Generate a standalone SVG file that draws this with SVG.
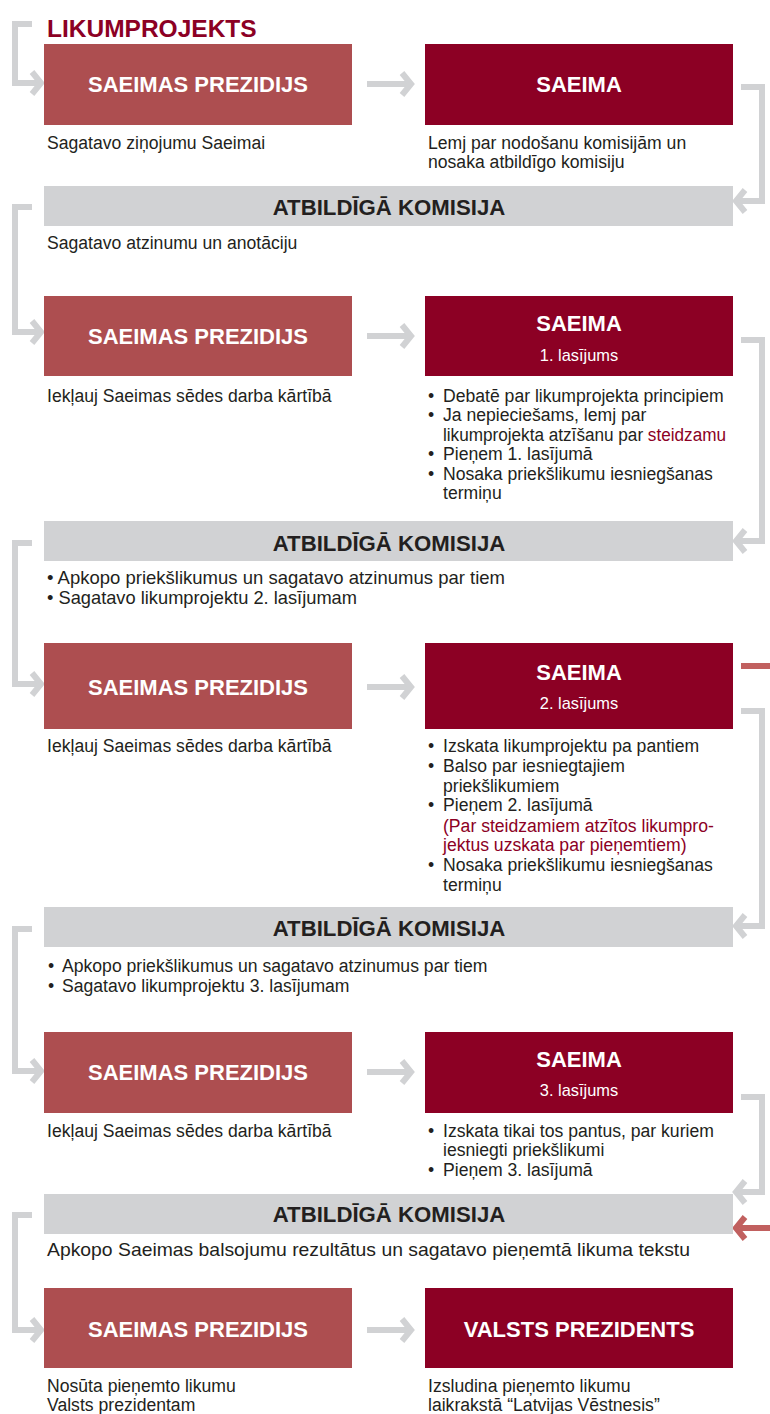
<svg xmlns="http://www.w3.org/2000/svg" width="770" height="1414" viewBox="0 0 770 1414">
<style>
.lt{fill:#ad4e50}
.dk{fill:#8c0024}
.bar{fill:#d1d2d4}
.bt{font-family:"Liberation Sans",Arial,sans-serif;font-weight:bold;font-size:22px;fill:#fff;text-anchor:middle}
.bb{font-family:"Liberation Sans",Arial,sans-serif;font-weight:bold;font-size:22.2px;fill:#231f20;text-anchor:middle}
.sub{font-family:"Liberation Sans",Arial,sans-serif;font-size:16.4px;fill:#fff;text-anchor:middle}
.tx{font-family:"Liberation Sans",Arial,sans-serif;font-size:17.6px;fill:#231f20}
.lg{font-size:18.4px}
.red{fill:#8c0024}
.cn{fill:none;stroke:#d1d2d4;stroke-width:6;stroke-linejoin:miter;stroke-linecap:butt}
.cr{fill:none;stroke:#c1605f;stroke-width:6;stroke-linejoin:miter;stroke-linecap:butt}
.title{font-family:"Liberation Sans",Arial,sans-serif;font-weight:bold;font-size:24.5px;fill:#8c0024}
</style>
<text class="title" x="47" y="37">LIKUMPROJEKTS</text>
<g id="connectors">
  <path class="cn" d="M32 24H15V83H38"/><polyline class="cn" points="32,72 41,83 32,94"/>
  <path class="cn" d="M367 84H408"/><polyline class="cn" points="402,73 411,84 402,95"/>
  <path class="cn" d="M741 87H762V201H740"/><polyline class="cn" points="745,190 736,201 745,212"/>
  <path class="cn" d="M32 207H15V332H38"/><polyline class="cn" points="32,321 41,332 32,343"/>
  <path class="cn" d="M367 336H408"/><polyline class="cn" points="402,325 411,336 402,347"/>
  <path class="cn" d="M741 340H762V541H740"/><polyline class="cn" points="745,530 736,541 745,552"/>
  <path class="cn" d="M32 543H15V684H38"/><polyline class="cn" points="32,673 41,684 32,695"/>
  <path class="cn" d="M367 687H408"/><polyline class="cn" points="402,676 411,687 402,698"/>
  <path class="cr" d="M741 666H770"/>
  <path class="cn" d="M741 711H762V926H740"/><polyline class="cn" points="745,915 736,926 745,937"/>
  <path class="cn" d="M32 929H15V1071H38"/><polyline class="cn" points="32,1060 41,1071 32,1082"/>
  <path class="cn" d="M367 1072H408"/><polyline class="cn" points="402,1061 411,1072 402,1083"/>
  <path class="cn" d="M741 1097H762V1192H740"/><polyline class="cn" points="745,1181 736,1192 745,1203"/>
  <path class="cr" d="M770 1228H740"/><polyline class="cr" points="745,1217 736,1228 745,1239"/>
  <path class="cn" d="M32 1215H15V1330H38"/><polyline class="cn" points="32,1319 41,1330 32,1341"/>
  <path class="cn" d="M367 1330H408"/><polyline class="cn" points="402,1319 411,1330 402,1341"/>
</g>
<g id="prez1">
  <rect class="lt" x="44" y="44" width="308" height="81"/>
  <text class="bt" x="198" y="92">SAEIMAS PREZIDIJS</text>
  <text class="tx" x="47" y="149">Sagatavo ziņojumu Saeimai</text>
</g>
<g id="saeima1">
  <rect class="dk" x="425" y="44" width="308" height="81"/>
  <text class="bt" x="579" y="92">SAEIMA</text>
  <text class="tx" x="428" y="149">Lemj par nodošanu komisijām un</text>
  <text class="tx" x="428" y="168">nosaka atbildīgo komisiju</text>
</g>
<g id="kom1">
  <rect class="bar" x="44" y="186" width="689" height="40"/>
  <text class="bb" x="389" y="215">ATBILDĪGĀ KOMISIJA</text>
  <text class="tx" x="47" y="249">Sagatavo atzinumu un anotāciju</text>
</g>
<g id="prez2">
  <rect class="lt" x="44" y="296" width="308" height="80"/>
  <text class="bt" x="198" y="344">SAEIMAS PREZIDIJS</text>
  <text class="tx" x="47" y="402">Iekļauj Saeimas sēdes darba kārtībā</text>
</g>
<g id="saeima2">
  <rect class="dk" x="425" y="296" width="308" height="80"/>
  <text class="bt" x="579" y="331">SAEIMA</text>
  <text class="sub" x="579" y="361">1. lasījums</text>
  <g class="tx">
    <text x="428" y="402">•</text><text x="443" y="402">Debatē par likumprojekta principiem</text>
    <text x="428" y="421">•</text><text x="443" y="421">Ja nepieciešams, lemj par</text>
    <text x="443" y="441" textLength="283" lengthAdjust="spacingAndGlyphs">likumprojekta atzīšanu par <tspan class="red">steidzamu</tspan></text>
    <text x="428" y="460">•</text><text x="443" y="460">Pieņem 1. lasījumā</text>
    <text x="428" y="480">•</text><text x="443" y="480">Nosaka priekšlikumu iesniegšanas</text>
    <text x="443" y="499">termiņu</text>
  </g>
</g>
<g id="kom2">
  <rect class="bar" x="44" y="521" width="689" height="40"/>
  <text class="bb" x="389" y="551">ATBILDĪGĀ KOMISIJA</text>
  <text class="tx lg" x="47" y="584" textLength="458" lengthAdjust="spacingAndGlyphs">• Apkopo priekšlikumus un sagatavo atzinumus par tiem</text>
  <text class="tx lg" x="47" y="604" textLength="310" lengthAdjust="spacingAndGlyphs">• Sagatavo likumprojektu 2. lasījumam</text>
</g>
<g id="prez3">
  <rect class="lt" x="44" y="643" width="308" height="86"/>
  <text class="bt" x="198" y="695">SAEIMAS PREZIDIJS</text>
  <text class="tx" x="47" y="752">Iekļauj Saeimas sēdes darba kārtībā</text>
</g>
<g id="saeima3">
  <rect class="dk" x="425" y="643" width="308" height="86"/>
  <text class="bt" x="579" y="680">SAEIMA</text>
  <text class="sub" x="579" y="709">2. lasījums</text>
  <g class="tx">
    <text x="428" y="752">•</text><text x="443" y="752">Izskata likumprojektu pa pantiem</text>
    <text x="428" y="772">•</text><text x="443" y="772">Balso par iesniegtajiem</text>
    <text x="443" y="792">priekšlikumiem</text>
    <text x="428" y="811">•</text><text x="443" y="811">Pieņem 2. lasījumā</text>
    <text class="red" x="443" y="832">(Par steidzamiem atzītos likumpro-</text>
    <text class="red" x="443" y="851">jektus uzskata par pieņemtiem)</text>
    <text x="428" y="871">•</text><text x="443" y="871">Nosaka priekšlikumu iesniegšanas</text>
    <text x="443" y="891">termiņu</text>
  </g>
</g>
<g id="kom3">
  <rect class="bar" x="44" y="907" width="689" height="40"/>
  <text class="bb" x="389" y="936">ATBILDĪGĀ KOMISIJA</text>
  <g class="tx">
    <text x="48" y="972">•</text><text x="62" y="972">Apkopo priekšlikumus un sagatavo atzinumus par tiem</text>
    <text x="48" y="992">•</text><text x="62" y="992">Sagatavo likumprojektu 3. lasījumam</text>
  </g>
</g>
<g id="prez4">
  <rect class="lt" x="44" y="1032" width="308" height="81"/>
  <text class="bt" x="198" y="1080">SAEIMAS PREZIDIJS</text>
  <text class="tx" x="47" y="1137">Iekļauj Saeimas sēdes darba kārtībā</text>
</g>
<g id="saeima4">
  <rect class="dk" x="425" y="1032" width="308" height="81"/>
  <text class="bt" x="579" y="1067">SAEIMA</text>
  <text class="sub" x="579" y="1096">3. lasījums</text>
  <g class="tx">
    <text x="428" y="1137">•</text><text x="443" y="1137">Izskata tikai tos pantus, par kuriem</text>
    <text x="443" y="1156">iesniegti priekšlikumi</text>
    <text x="428" y="1176">•</text><text x="443" y="1176">Pieņem 3. lasījumā</text>
  </g>
</g>
<g id="kom4">
  <rect class="bar" x="44" y="1194" width="689" height="40"/>
  <text class="bb" x="389" y="1222">ATBILDĪGĀ KOMISIJA</text>
  <text class="tx lg" x="47" y="1256" textLength="643" lengthAdjust="spacingAndGlyphs">Apkopo Saeimas balsojumu rezultātus un sagatavo pieņemtā likuma tekstu</text>
</g>
<g id="prez5">
  <rect class="lt" x="44" y="1288" width="308" height="80"/>
  <text class="bt" x="198" y="1337">SAEIMAS PREZIDIJS</text>
  <text class="tx" x="47" y="1392">Nosūta pieņemto likumu</text>
  <text class="tx" x="47" y="1411">Valsts prezidentam</text>
</g>
<g id="prezidents">
  <rect class="dk" x="425" y="1288" width="308" height="80"/>
  <text class="bt" x="579" y="1337">VALSTS PREZIDENTS</text>
  <text class="tx" x="428" y="1392">Izsludina pieņemto likumu</text>
  <text class="tx" x="428" y="1411">laikrakstā “Latvijas Vēstnesis”</text>
</g>
</svg>
